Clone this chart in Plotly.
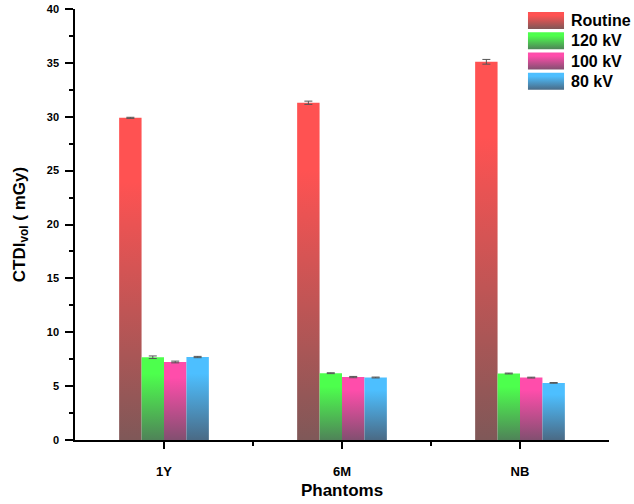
import plotly.graph_objects as go

categories = ["1Y", "6M", "NB"]
series_names = ["Routine", "120 kV", "100 kV", "80 kV"]
routine = [29.9, 31.3, 35.1]
kv120 = [7.68, 6.2, 6.17]
kv100 = [7.24, 5.84, 5.79]
kv80 = [7.7, 5.8, 5.3]
routine_err = [0.05, 0.15, 0.22]
kv120_err = [0.12, 0.04, 0.04]
kv100_err = [0.08, 0.06, 0.04]
kv80_err = [0.06, 0.04, 0.03]

values = [routine, kv120, kv100, kv80]
errors = [routine_err, kv120_err, kv100_err, kv80_err]
top_colors = ["#ff5252", "#4dff4d", "#ff4dab", "#4dbfff"]
bottom_colors = ["#7f5858", "#4f8358", "#824f70", "#4a6a85"]

FONT = "Liberation Sans, Arial, sans-serif"
bar_w = 0.126
fig = go.Figure()


def cscale(s):
    return [[0, bottom_colors[s]], [0.8, top_colors[s]], [1, top_colors[s]]]


for s, name in enumerate(series_names):
    offset = (s - 1.5) * bar_w
    for i, v in enumerate(values[s]):
        xc = i + 1 + offset
        x0, x1 = xc - bar_w / 2, xc + bar_w / 2
        fig.add_trace(go.Scatter(
            x=[x0, x0, x1, x1, x0], y=[0, v, v, 0, 0],
            mode="lines", line=dict(width=0, color=top_colors[s]),
            fill="toself",
            fillgradient=dict(type="vertical", colorscale=cscale(s), start=0, stop=v),
            name=name, showlegend=False, hoverinfo="skip",
        ))
    fig.add_trace(go.Scatter(
        x=[i + 1 + offset for i in range(len(categories))], y=values[s],
        mode="markers", marker=dict(size=1, opacity=0),
        error_y=dict(type="data", array=errors[s], color="#555555", thickness=1, width=4),
        showlegend=False, hoverinfo="skip",
    ))

# custom legend (gradient swatches) on a helper axis pair
n = len(series_names)
LEG_Y0, LEG_Y1 = 0.805, 0.993
for k, name in enumerate(series_names):
    y0, y1 = n - 1 - k + 0.16, n - k
    fig.add_trace(go.Scatter(
        x=[0, 0, 1, 1, 0], y=[y0, y1, y1, y0, y0], xaxis="x2", yaxis="y2",
        mode="lines", line=dict(width=0, color=top_colors[k]), fill="toself",
        fillgradient=dict(type="vertical", colorscale=cscale(k), start=y0, stop=y1),
        showlegend=False, hoverinfo="skip",
    ))
    fig.add_annotation(
        x=0.9251, y=LEG_Y0 + (y0 + y1) / 2 / n * (LEG_Y1 - LEG_Y0),
        xref="paper", yref="paper", text=name, showarrow=False,
        xanchor="left", yanchor="middle",
        font=dict(size=16, weight="bold", family=FONT, color="black"),
    )

fig.update_layout(
    width=634, height=504,
    margin=dict(l=75, r=25, t=9, b=64),
    plot_bgcolor="white", paper_bgcolor="white",
    font=dict(family=FONT, color="black"),
    showlegend=False,
    xaxis=dict(
        range=[0.5, 3.5], tickmode="array", tickvals=[1, 2, 3], ticktext=categories,
        showline=True, linecolor="black", linewidth=1.5, mirror=False,
        ticks="outside", ticklen=7, tickwidth=1.5, tickcolor="black",
        minor=dict(tickmode="array", tickvals=[1.5, 2.5], ticks="outside", ticklen=4,
                   tickwidth=1.5, tickcolor="black"),
        showgrid=False, zeroline=False, automargin=False, ticklabelstandoff=12,
        tickfont=dict(size=13, weight="bold", family=FONT),
        title=dict(text="Phantoms", font=dict(size=17, weight="bold", family=FONT), standoff=6),
    ),
    yaxis=dict(
        range=[0, 40], tickmode="linear", tick0=0, dtick=5,
        showline=True, linecolor="black", linewidth=1.5,
        ticks="outside", ticklen=8, tickwidth=1.5, tickcolor="black",
        minor=dict(tick0=0, dtick=2.5, ticks="outside", ticklen=4, tickwidth=1.5, tickcolor="black"),
        showgrid=False, zeroline=False, automargin=False, ticklabelstandoff=4,
        ticklabeloverflow="allow",
        tickfont=dict(size=11, weight="bold", family=FONT),
        title=dict(text="CTDI<sub>vol</sub> ( mGy)", font=dict(size=17, weight="bold", family=FONT),
                   standoff=17),
    ),
    xaxis2=dict(domain=[0.848, 0.916], range=[0, 1], visible=False, anchor="y2", fixedrange=True),
    yaxis2=dict(domain=[LEG_Y0, LEG_Y1], range=[0, 4], visible=False, anchor="x2", fixedrange=True),
)

fig.write_html("out.html", config={"displayModeBar": False},
               post_script="document.body.style.margin='0';")
